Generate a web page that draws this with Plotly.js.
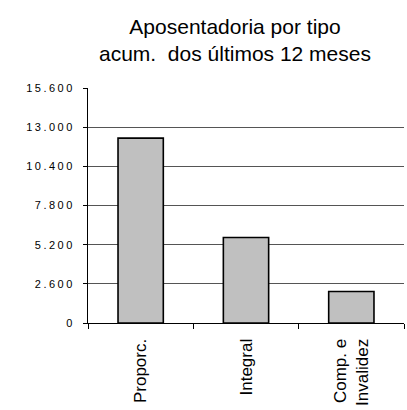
<!DOCTYPE html>
<html>
<head>
<meta charset="utf-8">
<script src="https://cdn.plot.ly/plotly-3.0.1.min.js"></script>
<style>
  html, body { margin: 0; padding: 0; background: #fff; }
  #chart { width: 407px; height: 410px; }
  .ytick text { letter-spacing: 2.5px; }
</style>
</head>
<body>
<div id="chart"></div>
<script>
const categories = ['Proporc.', 'Integral', 'Comp. e<br>Invalidez'];
const values = [12270, 5680, 2090];
const yTicks = [0, 2600, 5200, 7800, 10400, 13000, 15600];

const trace = {
  type: 'bar',
  x: categories,
  y: values,
  marker: { color: '#c0c0c0', line: { color: '#000', width: 1.6 } },
  hoverinfo: 'none'
};

const layout = {
  width: 407,
  height: 410,
  margin: { l: 88, r: 3, t: 88, b: 87 },
  paper_bgcolor: '#fff',
  plot_bgcolor: '#fff',
  separators: ',.',
  showlegend: false,
  bargap: 0.57,
  font: { family: 'Liberation Sans, Arial, sans-serif', color: '#000' },
  title: {
    text: 'Aposentadoria por tipo<br>acum.\u00a0 dos últimos 12 meses',
    font: { size: 21, color: '#000', family: 'Liberation Sans, Arial, sans-serif' },
    x: 235 / 407,
    xanchor: 'center',
    xref: 'container',
    y: 1 - 34 / 410,
    yanchor: 'top',
    yref: 'container'
  },
  xaxis: {
    type: 'category',
    showline: true,
    linecolor: '#000',
    linewidth: 1,
    ticks: 'outside',
    tickson: 'boundaries',
    ticklen: 5,
    tickcolor: '#000',
    tickangle: -90,
    ticklabelstandoff: 8,
    tickfont: { size: 17, color: '#000' },
    showgrid: false,
    zeroline: false,
    fixedrange: true
  },
  yaxis: {
    range: [0, 15600],
    tickvals: yTicks,
    tickformat: ',d',
    showline: true,
    linecolor: '#000',
    linewidth: 1,
    ticks: 'outside',
    ticklen: 4,
    tickcolor: '#000',
    ticklabelstandoff: 6,
    tickfont: { size: 11, color: '#000' },
    showgrid: true,
    gridcolor: '#555',
    gridwidth: 1,
    zeroline: false,
    fixedrange: true
  }
};

Plotly.newPlot('chart', [trace], layout, { displayModeBar: false, staticPlot: true });
</script>
</body>
</html>
